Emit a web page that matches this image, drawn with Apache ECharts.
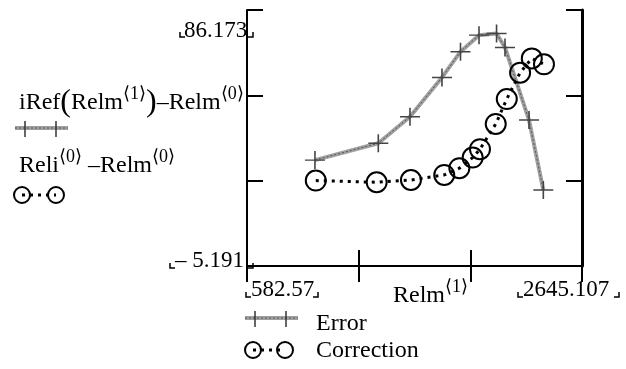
<!DOCTYPE html>
<html>
<head>
<meta charset="utf-8">
<script src="https://cdn.jsdelivr.net/npm/echarts@6/dist/echarts.min.js"></script>
<style>
html,body{margin:0;padding:0;background:#fff;}
#c{width:626px;height:369px;}
</style>
</head>
<body>
<div id="c"></div>
<script>
// ---- data ----
const xMin = 582.57, xMax = 2645.107;
const yMin = -5.191, yMax = 86.173;
const xLimitLabels = ['582.57', '2645.107'];
const yLimitLabels = ['86.173', '\u2013 5.191'];
const errorX = [1001, 1391, 1586, 1783, 1897, 2011, 2119, 2171, 2319, 2407];
const errorY = [32.6, 38.6, 48.1, 62.1, 71.3, 77.2, 77.8, 72.8, 46.9, 21.9];
const corrX = [1006, 1381, 1592, 1797, 1890, 1972, 2017, 2114, 2182, 2264, 2336, 2411];
const corrY = [25.3, 24.7, 25.5, 27.3, 29.7, 33.5, 36.5, 45.5, 54.4, 63.8, 68.9, 66.8];
const seriesNames = ['Error', 'Correction'];
const xTitle = ['Relm', '\u27E81\u27E9'];

const errData = errorX.map((x, i) => [x, errorY[i]]);
const corrData = corrX.map((x, i) => [x, corrY[i]]);

const FONT = '"Liberation Serif","Times New Roman",serif';
const chart = echarts.init(document.getElementById('c'));

const crossPath = 'path://M0,9.2h20v1.6h-20z M9.2,0h1.6v20h-1.6z';
const tickAxisCommon = {
  type: 'value', min: 0, max: 3, interval: 1,
  axisLine: { show: true, lineStyle: { color: '#000', width: 2 } },
  axisTick: { show: true, inside: true, length: 16, lineStyle: { color: '#000', width: 2 } },
  axisLabel: { show: false }, splitLine: { show: false }
};

const rich = {
  m: { fontFamily: FONT, fontSize: 24, lineHeight: 36, verticalAlign: 'middle', color: '#000' },
  p: { fontFamily: FONT, fontSize: 32, lineHeight: 36, verticalAlign: 'middle', color: '#000' },
  s: { fontFamily: FONT, fontSize: 18, lineHeight: 14, verticalAlign: 'top', color: '#000' }
};
function txt(x, y, text, size) {
  return { type: 'text', x: x, y: y, silent: true,
    style: { text: text, font: (size || 24) + 'px ' + FONT, fill: '#000', align: 'left', verticalAlign: 'middle' } };
}
function rtxt(x, y, text) {
  return { type: 'text', x: x, y: y, silent: true,
    style: { text: text, rich: rich, font: '24px ' + FONT, fill: '#000', align: 'left', verticalAlign: 'middle' } };
}
function corner(x, y, dir) { // small Mathcad limit brackets
  const pts = dir === 'L' ? [[x, y - 5], [x, y], [x + 5, y]] : [[x - 5, y], [x, y], [x, y - 5]];
  return { type: 'polyline', silent: true, shape: { points: pts }, style: { stroke: '#000', lineWidth: 1.5, fill: null } };
}
function errSym(x0, x1, y) {
  return [
    { type: 'line', silent: true, shape: { x1: x0, y1: y, x2: x1, y2: y }, style: { stroke: '#a0a0a0', lineWidth: 4 } },
    { type: 'line', silent: true, shape: { x1: x0, y1: y, x2: x1, y2: y }, style: { stroke: '#555', lineWidth: 1, lineDash: [2, 2] } },
    { type: 'line', silent: true, shape: { x1: x0 + 10, y1: y - 7, x2: x0 + 10, y2: y + 9 }, style: { stroke: '#333', lineWidth: 1.5 } },
    { type: 'line', silent: true, shape: { x1: x1 - 12, y1: y - 7, x2: x1 - 12, y2: y + 9 }, style: { stroke: '#333', lineWidth: 1.5 } }
  ];
}
function corrSym(cx0, cx1, y) {
  return [
    { type: 'line', silent: true, shape: { x1: cx0, y1: y, x2: cx1, y2: y }, style: { stroke: '#000', lineWidth: 3, lineDash: [3, 5] } },
    { type: 'circle', silent: true, shape: { cx: cx0, cy: y, r: 8 }, style: { stroke: '#000', lineWidth: 2, fill: null } },
    { type: 'circle', silent: true, shape: { cx: cx1, cy: y, r: 8 }, style: { stroke: '#000', lineWidth: 2, fill: null } }
  ];
}

const graphics = [
  // y limits
  txt(184, 31, yLimitLabels[0], 23),
  corner(180, 37, 'L'), corner(253, 37, 'R'),
  txt(175, 261, yLimitLabels[1], 23),
  corner(170, 268, 'L'), corner(253, 268, 'R'),
  // x limits
  txt(251, 290, xLimitLabels[0], 23),
  corner(246, 297, 'L'), corner(318, 297, 'R'),
  txt(523, 290, xLimitLabels[1], 23),
  corner(518, 297, 'L'), corner(619, 297, 'R'),
  // x title
  rtxt(393, 296, '{m|' + xTitle[0] + '}{s|' + xTitle[1] + '}'),
  // left legend expressions
  rtxt(19, 103, '{m|iRef}{p|(}{m|Relm}{s|\u27E81\u27E9}{p|)}{m|\u2013Relm}{s|\u27E80\u27E9}'),
  rtxt(19, 166, '{m|Reli}{s|\u27E80\u27E9}{m| \u2013Relm}{s|\u27E80\u27E9}'),
  // bottom legend texts
  txt(316, 324, seriesNames[0]),
  txt(316, 351, seriesNames[1])
].concat(errSym(15, 68, 128), corrSym(22, 56, 195), errSym(245, 298, 318), corrSym(253, 285, 350));

chart.setOption({
  animation: false,
  backgroundColor: '#fff',
  grid: { left: 247, top: 10, width: 335, height: 256, show: false },
  xAxis: [
    { type: 'value', min: xMin, max: xMax, show: false },
    Object.assign({ position: 'bottom' }, tickAxisCommon),
    Object.assign({ position: 'top' }, tickAxisCommon)
  ],
  yAxis: [
    { type: 'value', min: yMin, max: yMax, show: false },
    Object.assign({ position: 'left' }, tickAxisCommon),
    Object.assign({ position: 'right' }, tickAxisCommon, { axisLine: { show: true, lineStyle: { color: '#000', width: 3 } } })
  ],
  series: [
    { name: seriesNames[0], type: 'line', xAxisIndex: 0, yAxisIndex: 0, data: errData, clip: false,
      symbol: 'none', lineStyle: { color: '#a0a0a0', width: 4 }, z: 2 },
    { name: seriesNames[0] + ' texture', type: 'line', xAxisIndex: 0, yAxisIndex: 0, data: errData, clip: false,
      symbol: crossPath, symbolSize: [20, 18], symbolKeepAspect: false,
      itemStyle: { color: '#444' }, lineStyle: { color: '#555', width: 1, type: [2, 2] }, z: 3 },
    { name: seriesNames[1], type: 'line', xAxisIndex: 0, yAxisIndex: 0, data: corrData, clip: false,
      symbol: 'circle', symbolSize: 20,
      itemStyle: { color: 'rgba(0,0,0,0)', borderColor: '#000', borderWidth: 2 },
      lineStyle: { color: '#000', width: 3, type: [3, 5] }, z: 4 }
  ],
  graphic: graphics
});
</script>
</body>
</html>
